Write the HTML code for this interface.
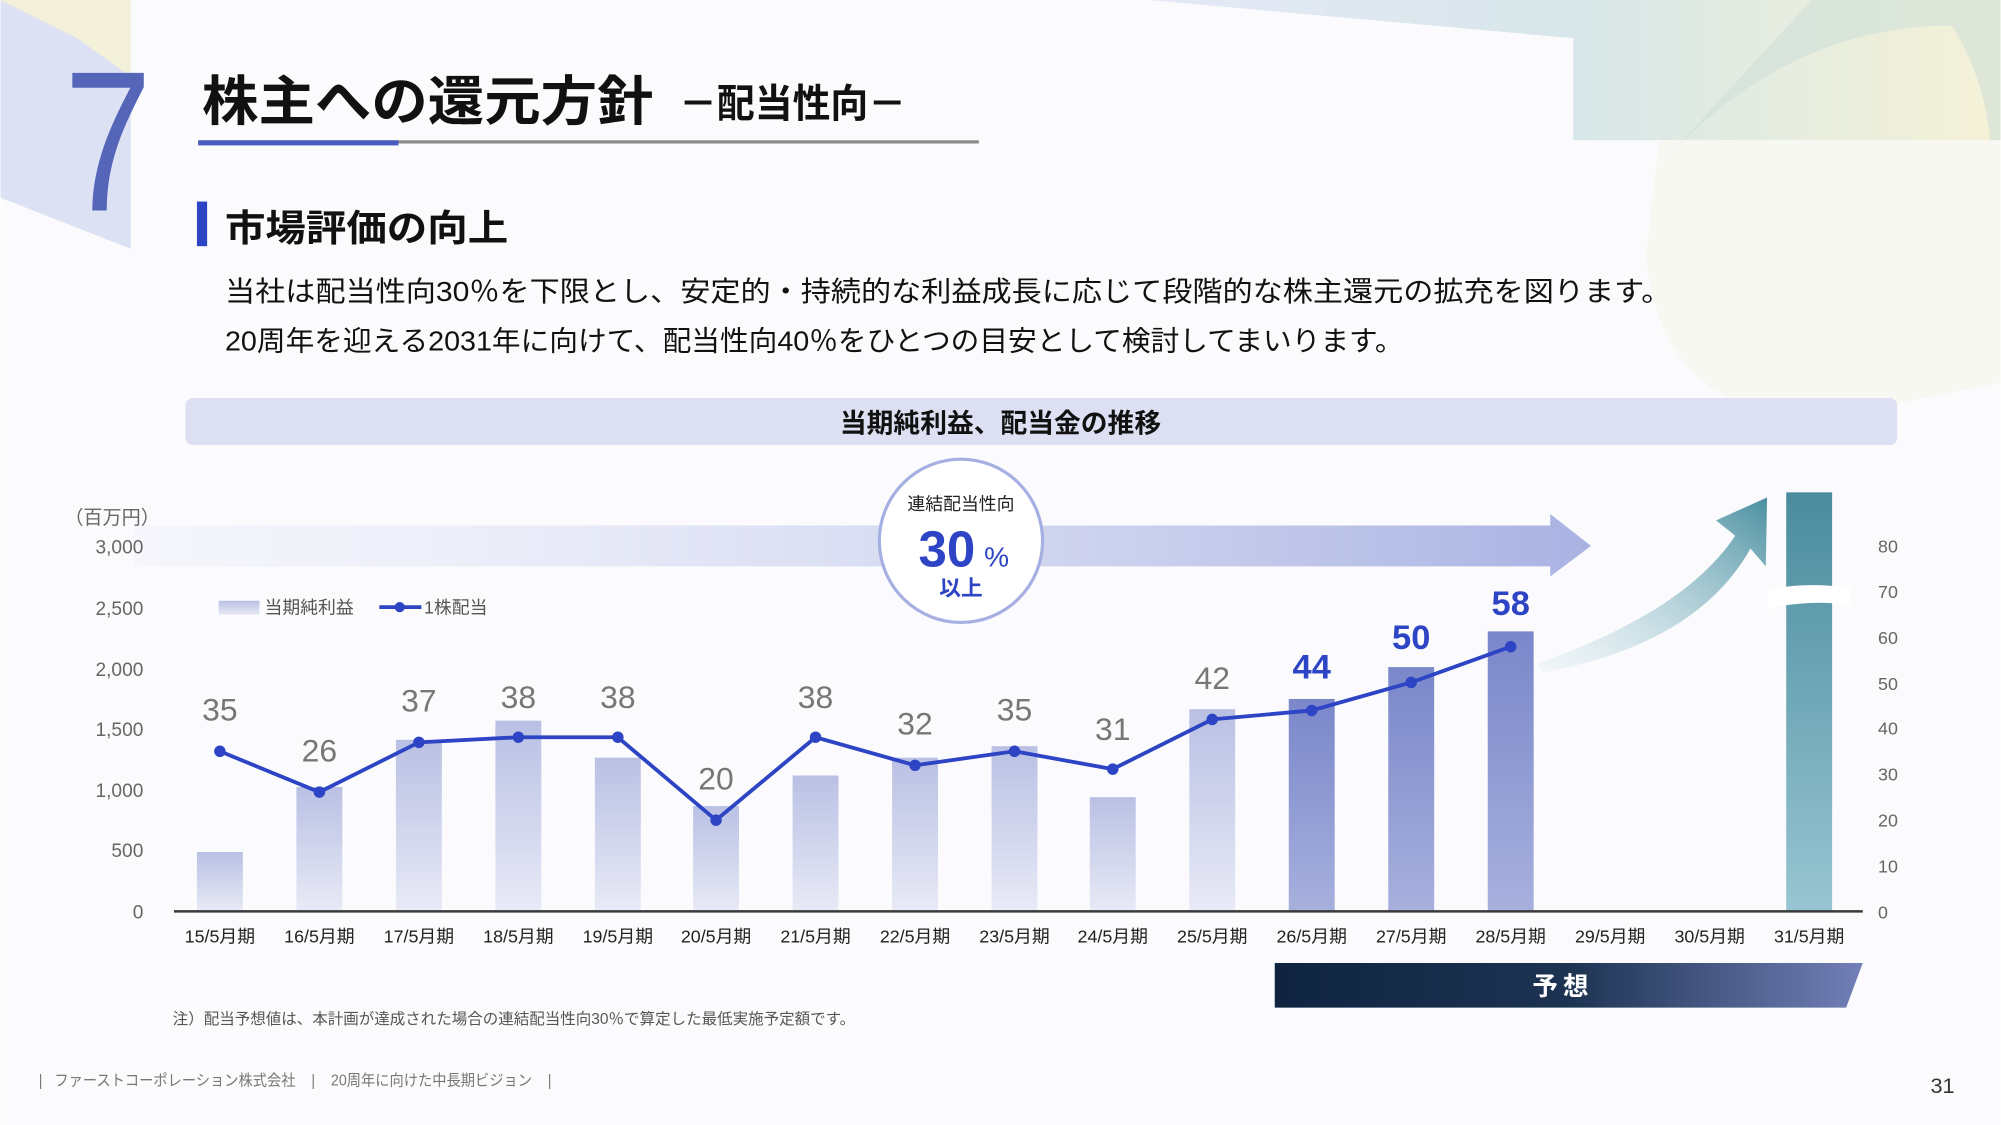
<!DOCTYPE html>
<html><head><meta charset="utf-8"><style>
html,body{margin:0;padding:0;background:#fff;}
svg{display:block;}
text{font-family:"Liberation Sans","Noto Sans CJK JP",sans-serif;}
</style></head><body>
<svg width="2001" height="1125" viewBox="0 0 1568 882" xmlns="http://www.w3.org/2000/svg">
<defs>
<linearGradient id="bar" x1="0" y1="0" x2="0" y2="1"><stop offset="0" stop-color="#b9c0e4"/><stop offset="1" stop-color="#e8eaf6"/></linearGradient>
<linearGradient id="barf" x1="0" y1="0" x2="0" y2="1"><stop offset="0" stop-color="#7a87ca"/><stop offset="1" stop-color="#a7b0dd"/></linearGradient>
<linearGradient id="teal" x1="0" y1="0" x2="0" y2="1"><stop offset="0" stop-color="#4a8c9e"/><stop offset="1" stop-color="#98c5d2"/></linearGradient>
<linearGradient id="arr" x1="0" y1="0" x2="1" y2="0"><stop offset="0" stop-color="#eef0fa" stop-opacity="0.4"/><stop offset="1" stop-color="#a9b2e2"/></linearGradient>
<linearGradient id="yoso" x1="0" y1="0" x2="1" y2="0"><stop offset="0" stop-color="#0f2440"/><stop offset="0.5" stop-color="#1d3352"/><stop offset="1" stop-color="#7380b8"/></linearGradient>
<linearGradient id="carr" x1="0" y1="1" x2="1" y2="0"><stop offset="0" stop-color="#c9e2e9" stop-opacity="0.2"/><stop offset="1" stop-color="#4a8fa0"/></linearGradient>
<linearGradient id="tr" x1="0" y1="0" x2="1" y2="0"><stop offset="0" stop-color="#dfe3f6"/><stop offset="0.5" stop-color="#cfe2e4"/><stop offset="1" stop-color="#f3efcc"/></linearGradient>
</defs>
<rect width="1568" height="882" fill="#fbfbfd"/>
<polygon points="0,0 102,0 102,195 0,155" fill="#dde1f4"/>
<polygon points="0,0 102,0 102,60 60,30" fill="#f3f1da"/>
<polygon points="900,0 1568,0 1568,110 1233,110 1233,30" fill="url(#tr)" opacity="0.8"/>
<path d="M1300,130 Q1400,20 1530,20 Q1555,60 1560,110 L1568,110 L1568,0 L1420,0 Z" fill="#cfe0d8" opacity="0.6"/>
<path d="M1290,200 Q1300,320 1420,330 L1568,300 L1568,110 L1300,110 Z" fill="#f6f6ea" opacity="0.5"/>
<text x="0" y="0" font-size="112" fill="#5565b8" style="font-family:'Liberation Sans',sans-serif" transform="translate(50,165) scale(1.1,1.4)">7</text>
<text x="158" y="94" font-size="42" font-weight="bold" fill="#111" textLength="354" lengthAdjust="spacingAndGlyphs">株主への還元方針</text>
<text x="532" y="92" font-size="31" font-weight="bold" fill="#111" textLength="178" lengthAdjust="spacingAndGlyphs">－配当性向－</text>
<rect x="155" y="110" width="612" height="2.5" fill="#8a8a8a"/>
<rect x="155" y="110" width="157" height="4" fill="#4a5bc0"/>
<rect x="154" y="158" width="8" height="35" fill="#2d44c4"/>
<text x="176" y="189" font-size="29" font-weight="bold" fill="#111" textLength="222" lengthAdjust="spacingAndGlyphs">市場評価の向上</text>
<text x="176" y="236" font-size="22" fill="#111" textLength="1134" lengthAdjust="spacingAndGlyphs">当社は配当性向30％を下限とし、安定的・持続的な利益成長に応じて段階的な株主還元の拡充を図ります。</text>
<text x="176" y="275" font-size="22" fill="#111" textLength="924" lengthAdjust="spacingAndGlyphs">20周年を迎える2031年に向けて、配当性向40％をひとつの目安として検討してまいります。</text>
<rect x="145" y="312" width="1342" height="37" rx="6" fill="#dde0f2"/>
<text x="784" y="339" font-size="21" font-weight="bold" fill="#111" text-anchor="middle">当期純利益、配当金の推移</text>
<polygon points="105,412 1215,412 1215,403 1247,428 1215,452 1215,444 105,444" fill="url(#arr)"/>
<g font-size="15" fill="#666" text-anchor="end">
<text x="125" y="411" text-anchor="end">（百万円）</text>
<text x="112" y="434">3,000</text><text x="112" y="482">2,500</text><text x="112" y="530">2,000</text><text x="112" y="577">1,500</text><text x="112" y="625">1,000</text><text x="112" y="672">500</text><text x="112" y="720">0</text>
</g>
<g font-size="14" fill="#666">
<text x="1472" y="433">80</text><text x="1472" y="469">70</text><text x="1472" y="505">60</text><text x="1472" y="541">50</text><text x="1472" y="576">40</text><text x="1472" y="612">30</text><text x="1472" y="648">20</text><text x="1472" y="684">10</text><text x="1472" y="720">0</text>
</g>
<rect x="171" y="471" width="32" height="11" fill="url(#bar)"/>
<text x="207" y="481" font-size="14" fill="#555">当期純利益</text>
<line x1="297" y1="476" x2="330" y2="476" stroke="#2d44c4" stroke-width="3"/><circle cx="313" cy="476" r="4" fill="#2d44c4"/>
<text x="332" y="481" font-size="14" fill="#555">1株配当</text>
<g fill="url(#bar)">
<rect x="154" y="668" width="36" height="46"/><rect x="232" y="617" width="36" height="97"/><rect x="310" y="580" width="36" height="134"/><rect x="388" y="565" width="36" height="149"/><rect x="466" y="594" width="36" height="120"/><rect x="543" y="632" width="36" height="82"/><rect x="621" y="608" width="36" height="106"/><rect x="699" y="594" width="36" height="120"/><rect x="777" y="585" width="36" height="129"/><rect x="854" y="625" width="36" height="89"/><rect x="932" y="556" width="36" height="158"/>
</g>
<g fill="url(#barf)">
<rect x="1010" y="548" width="36" height="166"/><rect x="1088" y="523" width="36" height="191"/><rect x="1166" y="495" width="36" height="219"/>
</g>
<path d="M1205,520 Q1320,480 1360,420 L1345,408 L1385,390 L1384,444 L1372,430 Q1330,505 1210,527 Z" fill="url(#carr)"/>
<rect x="1400" y="386" width="36" height="328" fill="url(#teal)"/>
<path d="M1386,462 Q1418,456 1450,461 L1450,474 Q1418,470 1386,477 Z" fill="#fff"/>
<line x1="136" y1="714.5" x2="1460" y2="714.5" stroke="#3a3a3a" stroke-width="2"/>
<polyline points="172,589 250,621 328,582 406,578 484,578 561,643 639,578 717,600 795,589 872,603 950,564 1028,557 1106,535 1184,507" fill="none" stroke="#2d44c4" stroke-width="3"/>
<g fill="#2d44c4">
<circle cx="172" cy="589" r="4.5"/><circle cx="250" cy="621" r="4.5"/><circle cx="328" cy="582" r="4.5"/><circle cx="406" cy="578" r="4.5"/><circle cx="484" cy="578" r="4.5"/><circle cx="561" cy="643" r="4.5"/><circle cx="639" cy="578" r="4.5"/><circle cx="717" cy="600" r="4.5"/><circle cx="795" cy="589" r="4.5"/><circle cx="872" cy="603" r="4.5"/><circle cx="950" cy="564" r="4.5"/><circle cx="1028" cy="557" r="4.5"/><circle cx="1106" cy="535" r="4.5"/><circle cx="1184" cy="507" r="4.5"/>
</g>
<g font-size="25" fill="#777" text-anchor="middle">
<text x="172" y="565">35</text><text x="250" y="597">26</text><text x="328" y="558">37</text><text x="406" y="555">38</text><text x="484" y="555">38</text><text x="561" y="619">20</text><text x="639" y="555">38</text><text x="717" y="576">32</text><text x="795" y="565">35</text><text x="872" y="580">31</text><text x="950" y="540">42</text>
</g>
<g font-size="27" fill="#2d44c4" font-weight="bold" text-anchor="middle">
<text x="1028" y="532">44</text><text x="1106" y="509">50</text><text x="1184" y="482">58</text>
</g>
<circle cx="753" cy="424" r="64" fill="#fff" stroke="#a6afe2" stroke-width="2.5"/>
<text x="753" y="400" font-size="14" fill="#222" text-anchor="middle">連結配当性向</text>
<text x="742" y="444" font-size="40" font-weight="bold" fill="#2d44c4" text-anchor="middle">30</text>
<text x="781" y="444" font-size="22" fill="#2d44c4" text-anchor="middle">%</text>
<text x="753" y="467" font-size="17" font-weight="bold" fill="#2d44c4" text-anchor="middle">以上</text>
<g font-size="14" fill="#222" text-anchor="middle">
<text x="172" y="739">15/5月期</text><text x="250" y="739">16/5月期</text><text x="328" y="739">17/5月期</text><text x="406" y="739">18/5月期</text><text x="484" y="739">19/5月期</text><text x="561" y="739">20/5月期</text><text x="639" y="739">21/5月期</text><text x="717" y="739">22/5月期</text><text x="795" y="739">23/5月期</text><text x="872" y="739">24/5月期</text><text x="950" y="739">25/5月期</text><text x="1028" y="739">26/5月期</text><text x="1106" y="739">27/5月期</text><text x="1184" y="739">28/5月期</text><text x="1262" y="739">29/5月期</text><text x="1340" y="739">30/5月期</text><text x="1418" y="739">31/5月期</text>
</g>
<polygon points="999,755 1460,755 1447,790 999,790" fill="url(#yoso)"/>
<text x="1225" y="780" font-size="20" font-weight="bold" fill="#fff" text-anchor="middle" letter-spacing="4">予想</text>
<text x="135" y="803" font-size="12" fill="#555" textLength="535" lengthAdjust="spacingAndGlyphs">注）配当予想値は、本計画が達成された場合の連結配当性向30％で算定した最低実施予定額です。</text>
<text x="30" y="851" font-size="12" fill="#777" xml:space="preserve" textLength="402" lengthAdjust="spacingAndGlyphs">|   ファーストコーポレーション株式会社    |    20周年に向けた中長期ビジョン    |</text>
<text x="1532" y="857" font-size="17" fill="#333" text-anchor="end">31</text>
</svg>
</body></html>
